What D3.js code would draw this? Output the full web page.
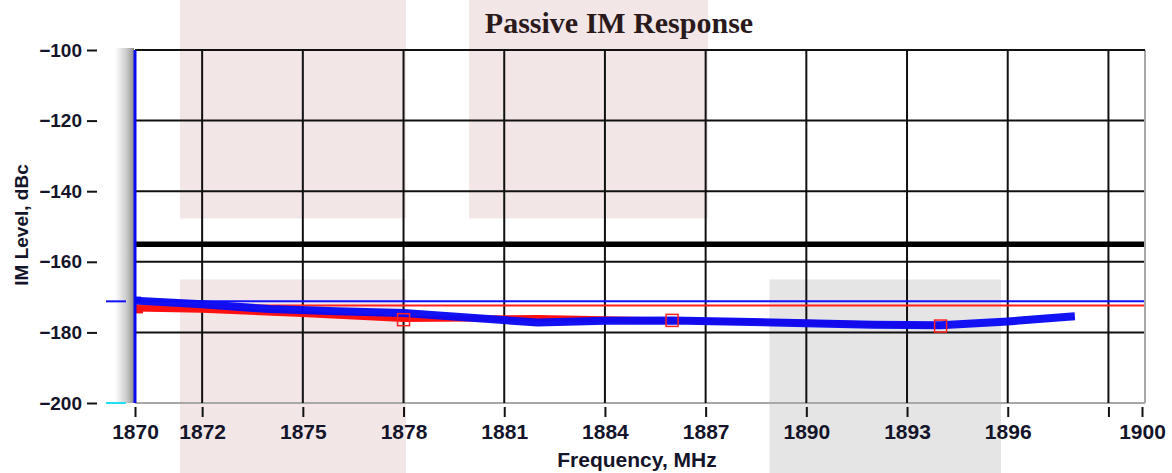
<!DOCTYPE html>
<html><head><meta charset="utf-8">
<script src="https://cdn.jsdelivr.net/npm/d3@7"></script>
<style>body{margin:0;background:#fff;} svg{display:block;}</style>
</head><body>
<svg id="c" width="1172" height="473"></svg>
<script>
// ---- data ----
const xTickValues = [1870, 1872, 1875, 1878, 1881, 1884, 1887, 1890, 1893, 1896, 1899, 1900];
const xTickLabels = ["1870","1872","1875","1878","1881","1884","1887","1890","1893","1896","","1900"];
const xGridValues = [1872, 1875, 1878, 1881, 1884, 1887, 1890, 1893, 1896, 1899];
const yTickValues = [-100, -120, -140, -160, -180, -200];
const yGridValues = [-120, -140, -160, -180];
const limitLevel = -155;
const blueRefLevel = -171.2;
const redRefLevel = -172.4;
const blueFreq = [1870, 1872, 1874, 1876, 1878, 1882, 1884, 1886, 1888, 1890, 1892, 1894, 1896, 1898];
const blueIM   = [-171.0, -172.0, -173.4, -174.0, -174.5, -177.2, -176.7, -176.6, -177.0, -177.4, -177.8, -178.0, -176.9, -175.4];
const redFreq  = [1870, 1872, 1875, 1878, 1882, 1886, 1890, 1894];
const redIM    = [-173.2, -173.6, -174.8, -176.2, -175.9, -176.6, -177.3, -178.2];
const redMarkerFreq = [1878, 1886, 1894];
const redMarkerIM   = [-176.4, -176.6, -178.2];
// decorative background panels [f0, f1, level0, level1]
const panelsPink = [[1871.34, 1878.07, -85.8, -147.7], [1879.95, 1887.07, -85.8, -147.7], [1871.34, 1878.07, -165.0, -220]];
const panelsGray = [[1888.9, 1895.8, -165.0, -220]];

// ---- layout ----
const svg = d3.select("#c");
const x = d3.scaleLinear().domain([1870, 1900]).range([135, 1142]);
const y = d3.scaleLinear().domain([-200, -100]).range([403, 50]);
const xL = x(1870), xR = x(1900) + 3, yT = y(-100), yB = y(-200);

// panels
svg.selectAll("rect.pp").data(panelsPink).join("rect")
  .attr("x", d => x(d[0])).attr("width", d => x(d[1]) - x(d[0]))
  .attr("y", d => y(d[2])).attr("height", d => y(d[3]) - y(d[2]))
  .attr("fill", "#f2e6e6");
svg.selectAll("rect.pg").data(panelsGray).join("rect")
  .attr("x", d => x(d[0])).attr("width", d => x(d[1]) - x(d[0]))
  .attr("y", d => y(d[2])).attr("height", d => y(d[3]) - y(d[2]))
  .attr("fill", "#e5e5e5");

// left shadow gradient
const defs = svg.append("defs");
const g = defs.append("linearGradient").attr("id", "sh").attr("x1", "0").attr("x2", "1").attr("y1", "0").attr("y2", "0");
g.append("stop").attr("offset", "0").attr("stop-color", "#fff");
g.append("stop").attr("offset", "0.6").attr("stop-color", "#cccccc");
g.append("stop").attr("offset", "1").attr("stop-color", "#8f8f8f");
svg.append("rect").attr("x", xL - 20).attr("y", yT - 2).attr("width", 19).attr("height", yB - yT + 2).attr("fill", "url(#sh)");

// borders
svg.append("line").attr("x1", xL).attr("x2", xR).attr("y1", yB).attr("y2", yB).attr("stroke", "#a8a8a8").attr("stroke-width", 2);
svg.append("line").attr("x1", xR).attr("x2", xR).attr("y1", yT).attr("y2", yB).attr("stroke", "#a8a8a8").attr("stroke-width", 2);

// grid
svg.selectAll("line.vg").data(xGridValues).join("line")
  .attr("x1", d => x(d)).attr("x2", d => x(d)).attr("y1", yT).attr("y2", yB)
  .attr("stroke", "#111").attr("stroke-width", 2);
svg.selectAll("line.hg").data(yGridValues).join("line")
  .attr("x1", xL).attr("x2", xR - 1).attr("y1", d => y(d)).attr("y2", d => y(d))
  .attr("stroke", "#111").attr("stroke-width", 2);
svg.append("line").attr("x1", xL).attr("x2", xR).attr("y1", yT).attr("y2", yT).attr("stroke", "#111").attr("stroke-width", 2);

// limit line
svg.append("line").attr("x1", xL).attr("x2", xR - 1).attr("y1", y(limitLevel)).attr("y2", y(limitLevel))
  .attr("stroke", "#000").attr("stroke-width", 5.5);

// reference lines
svg.append("line").attr("x1", xL).attr("x2", xR - 1).attr("y1", y(blueRefLevel)).attr("y2", y(blueRefLevel))
  .attr("stroke", "#1010ff").attr("stroke-width", 2);
svg.append("line").attr("x1", xL).attr("x2", xR - 1).attr("y1", y(redRefLevel)).attr("y2", y(redRefLevel))
  .attr("stroke", "#ff2020").attr("stroke-width", 2);

// series
const line = d3.line().x(d => x(d[0])).y(d => y(d[1]));
svg.append("path").datum(redFreq.map((f, i) => [f, redIM[i]])).attr("d", line)
  .attr("fill", "none").attr("stroke", "#ff1010").attr("stroke-width", 6).attr("stroke-linejoin", "round");
svg.append("path").datum(blueFreq.map((f, i) => [f, blueIM[i]])).attr("d", line)
  .attr("fill", "none").attr("stroke", "#0a0af5").attr("stroke-width", 8).attr("stroke-linejoin", "round").attr("opacity", 0.97);

// markers
svg.selectAll("rect.rm").data(redMarkerFreq.map((f, i) => [f, redMarkerIM[i]])).join("rect")
  .attr("x", d => x(d[0]) - 6).attr("y", d => y(d[1]) - 6).attr("width", 12).attr("height", 12)
  .attr("fill", "none").attr("stroke", "#ff2020").attr("stroke-width", 1.5);
svg.append("rect").attr("x", x(redFreq[0]) + 1).attr("y", y(redIM[0]) - 2).attr("width", 7).attr("height", 7).attr("fill", "#ff1010");
svg.append("rect").attr("x", x(blueFreq[0]) - 1).attr("y", y(blueIM[0]) - 4).attr("width", 7).attr("height", 6).attr("fill", "#0a0af5");

// left axis (blue)
svg.append("line").attr("x1", xL).attr("x2", xL).attr("y1", yT).attr("y2", yB).attr("stroke", "#0a0af0").attr("stroke-width", 3);

// side markers
svg.append("line").attr("x1", xL - 29).attr("x2", xL - 9).attr("y1", y(blueRefLevel)).attr("y2", y(blueRefLevel)).attr("stroke", "#1010ff").attr("stroke-width", 2);
svg.append("line").attr("x1", xL - 29).attr("x2", xL - 9).attr("y1", yB).attr("y2", yB).attr("stroke", "#20e0f0").attr("stroke-width", 2);

// y axis ticks & labels
const lblColor = "#14142a";
const yAxis = d3.axisLeft(y).tickValues(yTickValues).tickSize(10).tickPadding(5)
  .tickFormat(d => d3.format("d")(d).replace("-", "\u2212"));
svg.append("g").attr("transform", `translate(${xL - 38},0)`).call(yAxis)
  .call(s => s.select(".domain").remove())
  .call(s => s.selectAll(".tick line").attr("stroke", "#111").attr("stroke-width", 2))
  .call(s => s.selectAll(".tick text").attr("fill", lblColor).attr("font-family", "Liberation Sans, Arial, sans-serif")
    .attr("font-weight", "bold").attr("font-size", 19));

// x axis ticks & labels
const xAxis = d3.axisBottom(x).tickValues(xTickValues).tickSize(10).tickPadding(7)
  .tickFormat((d, i) => xTickLabels[i]);
svg.append("g").attr("transform", `translate(0,${yB + 4})`).call(xAxis)
  .call(s => s.select(".domain").remove())
  .call(s => s.selectAll(".tick line").attr("stroke", "#111").attr("stroke-width", 2))
  .call(s => s.selectAll(".tick text").attr("fill", lblColor).attr("font-family", "Liberation Sans, Arial, sans-serif")
    .attr("font-weight", "bold").attr("font-size", 21));

// titles
svg.append("text").attr("x", 619).attr("y", 33).attr("text-anchor", "middle")
  .attr("font-family", "Liberation Serif, Times New Roman, serif").attr("font-weight", "bold").attr("font-size", 30)
  .attr("fill", "#2a1a1c").text("Passive IM Response");
svg.append("text").attr("x", 637).attr("y", 467).attr("text-anchor", "middle")
  .attr("font-family", "Liberation Sans, Arial, sans-serif").attr("font-weight", "bold").attr("font-size", 21)
  .attr("fill", lblColor).text("Frequency, MHz");
svg.append("text").attr("transform", "translate(28,225) rotate(-90)").attr("text-anchor", "middle")
  .attr("font-family", "Liberation Sans, Arial, sans-serif").attr("font-weight", "bold").attr("font-size", 19)
  .attr("fill", lblColor).text("IM Level, dBc");
</script>
</body></html>
